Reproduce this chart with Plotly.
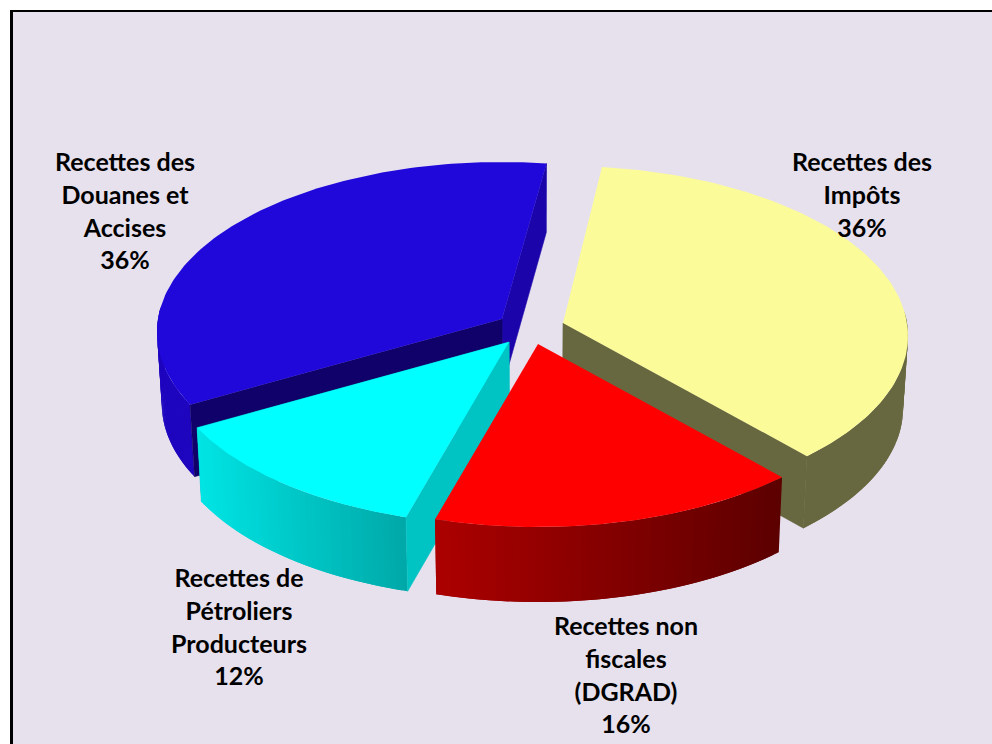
import numpy as np
import plotly.graph_objects as go

# ---- data
categories = ["Recettes des Impôts", "Recettes non fiscales (DGRAD)",
              "Recettes de Pétroliers Producteurs", "Recettes des Douanes et Accises"]
shares = [36, 16, 12, 36]
label_lines = [["Recettes des", "Impôts"],
               ["Recettes non", "fiscales", "(DGRAD)"],
               ["Recettes de", "Pétroliers", "Producteurs"],
               ["Recettes des", "Douanes et", "Accises"]]

# ---- presentation
START = 7.0
VIEW_WARP = [0, 1.4, 1.9, 3.4, 1]   # degrees: perspective skew of the slice boundaries
RX, RY, K = 344.0, 169.0, 0.0765
SHRINK, VX = 0.987, 530.0
apex = [(563, 323), (538, 344), (509, 342), (502, 319)]
depth = [72, 75, 74, 72]
label_pos = [(862, 165), (626, 629), (239, 581), (125, 165)]
LINE = 32.7
BG, FRAME = "#E7E1EE", "#000000"


def project(c, theta, r=1.0):
    t = np.radians(theta)
    u, v = r * np.sin(t), -r * np.cos(t)
    s = 1 / (1 - K * v)
    return c[0] + RX * u * s, c[1] + RY * v * s


def lower(p, d):
    return VX + (p[0] - VX) * SHRINK, p[1] + d


fig = go.Figure()


def poly(pts, color, edge=0):
    xs = [p[0] for p in pts] + [pts[0][0]]
    ys = [p[1] for p in pts] + [pts[0][1]]
    fig.add_trace(go.Scatter(x=xs, y=ys, mode="lines", fill="toself", fillcolor=color,
                             line=dict(color=color, width=edge), hoverinfo="skip",
                             showlegend=False))


def mix(a, b, t):
    return "rgb(%d,%d,%d)" % tuple(round(a[i] + (b[i] - a[i]) * t) for i in range(3))


def top(c, a0, a1, color):
    th = np.linspace(a0, a1, 120)
    poly([c] + [project(c, t) for t in th], color)


def rim(c, d, a0, a1, left, right, n=48):
    # Bands overlap the next one, so no antialiased seam shows between them.
    th = np.linspace(a0, a1, n + 1)
    xs = [project(c, t)[0] for t in th]
    lo, hi = min(xs), max(xs)
    for i in range(n):
        end = th[min(i + 2, n)]
        arc = [project(c, t) for t in np.linspace(th[i], end, 4)]
        f = (project(c, (th[i] + th[i + 1]) / 2)[0] - lo) / (hi - lo)
        poly(arc + [lower(p, d) for p in arc[::-1]], mix(left, right, f))


def wall(c, d, a, color):
    p = project(c, a)
    poly([c, p, lower(p, d), lower(c, d)], color, edge=0.6)


a = START + np.concatenate([[0], np.cumsum(shares)]) * 3.6 + np.array(VIEW_WARP)

# blue (back-left), drawn first
c, d = apex[3], depth[3]
wall(c, d - 3, a[4], "rgb(27,5,170)")
rim(c, d, a[3], 274, (30, 5, 190), (30, 5, 190))
wall(c, d, a[3], "rgb(16,0,105)")
top(c, a[3], a[4], "#2008DA")

# yellow
c, d = apex[0], depth[0]
wall(c, d, a[1], "rgb(104,104,64)")
rim(c, d, 86, a[1], (104, 104, 64), (104, 104, 64))
top(c, a[0], a[1], "#FBFB99")

# cyan
c, d = apex[2], depth[2]
wall(c, d, a[3], "rgb(0,195,195)")
rim(c, d, a[2], a[3], (0, 228, 228), (0, 168, 168))
wall(c, d, a[2], "rgb(0,195,195)")
top(c, a[2], a[3], "#00FFFF")

# red
c, d = apex[1], depth[1]
rim(c, d, a[1], a[2], (172, 0, 0), (92, 0, 0))
top(c, a[1], a[2], "#FF0000")

# labels
for lines, share, (x0, y0) in zip(label_lines, shares, label_pos):
    rows = lines + [f"{share}%"]
    fig.add_trace(go.Scatter(x=[x0] * len(rows), y=[y0 + i * LINE for i in range(len(rows))],
                             mode="text", text=rows, textposition="middle center",
                             textfont=dict(family="Lato", size=25, color="#000000", weight="bold"),
                             hoverinfo="skip", showlegend=False))

fig.update_layout(
    width=992, height=744, margin=dict(l=0, r=0, t=0, b=0), autosize=False,
    paper_bgcolor="#FFFFFF", plot_bgcolor="#FFFFFF",
    xaxis=dict(range=[0, 992], visible=False, fixedrange=True),
    yaxis=dict(range=[744, 0], visible=False, fixedrange=True),
    shapes=[
        dict(type="rect", x0=10, y0=10, x1=992, y1=744, fillcolor=FRAME, line_width=0, layer="below"),
        dict(type="rect", x0=13, y0=12, x1=992, y1=744, fillcolor=BG, line_width=0, layer="below"),
    ],
)
fig.write_html("out.html", config={"displayModeBar": False},
               post_script="document.body.style.margin='0';document.body.style.overflow='hidden';")
